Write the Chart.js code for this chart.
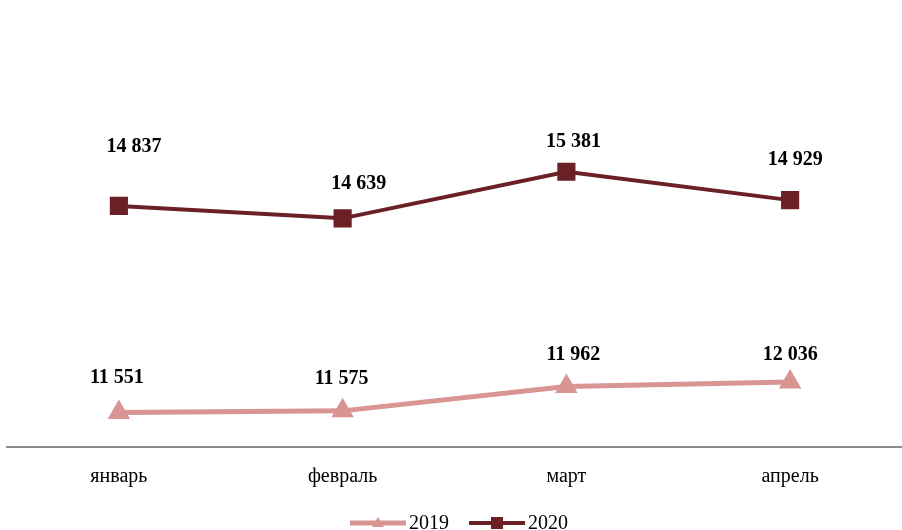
<!DOCTYPE html>
<html>
<head>
<meta charset="utf-8">
<script src="https://cdn.jsdelivr.net/npm/chart.js@4"></script>
<style>
  html, body { margin: 0; padding: 0; background: #fff; }
  #wrap { width: 902px; height: 530px; overflow: hidden; }
</style>
</head>
<body>
<div id="wrap"><canvas id="chart" width="902" height="530"></canvas></div>
<script>
const months = ["январь", "февраль", "март", "апрель"];
const values2019 = [11551, 11575, 11962, 12036];
const values2020 = [14837, 14639, 15381, 14929];
const seriesNames = ["2019", "2020"];

const color2019 = "#D99594";
const color2020 = "#6A2025";
const serif = "'Liberation Serif', 'Times New Roman', serif";

// label offsets (px from the point)
const labelOffsets = [
    [[-2, -35], [-1, -32], [7, -32], [0, -27]],
    [[15, -59], [16, -35], [7, -30], [5, -40]]
];

function fmt(v) {
    return String(v).replace(/\B(?=(\d{3})+(?!\d))/g, " ");
}

const valueLabels = {
    id: "valueLabels",
    afterDatasetsDraw(chart) {
        const ctx = chart.ctx;
        ctx.save();
        ctx.font = "bold 20px " + serif;
        ctx.fillStyle = "#000";
        ctx.textAlign = "center";
        ctx.textBaseline = "middle";
        chart.data.datasets.forEach((ds, i) => {
            chart.getDatasetMeta(i).data.forEach((pt, j) => {
                const off = labelOffsets[i][j];
                ctx.fillText(fmt(ds.data[j]), pt.x + off[0], pt.y + off[1]);
            });
        });
        ctx.restore();
    }
};

// ------------------------------
// Legend: line + marker, like Excel
// ------------------------------
const lineLegend = {
    id: "lineLegend",
    afterDraw(chart) {
        const ctx = chart.ctx;
        const y = 523;
        const sw = 56;
        ctx.save();
        ctx.font = "20px " + serif;
        ctx.textBaseline = "middle";
        const items = chart.data.datasets.map(ds => ({ ds, w: ctx.measureText(ds.label).width }));
        const total = items.reduce((s, it) => s + sw + 3 + it.w, 0) + 20 * (items.length - 1);
        let x = chart.width / 2 - total / 2 + 8;
        items.forEach(({ ds, w }) => {
            ctx.strokeStyle = ds.borderColor;
            ctx.fillStyle = ds.borderColor;
            ctx.lineWidth = ds.borderWidth;
            ctx.beginPath();
            ctx.moveTo(x, y);
            ctx.lineTo(x + sw, y);
            ctx.stroke();
            const cx = x + sw / 2;
            ctx.beginPath();
            if (ds.pointStyle === "triangle") {
                ctx.moveTo(cx, y - 6);
                ctx.lineTo(cx + 6, y + 4);
                ctx.lineTo(cx - 6, y + 4);
                ctx.closePath();
            } else {
                ctx.rect(cx - 6, y - 6, 12, 12);
            }
            ctx.fill();
            ctx.fillStyle = "#000";
            ctx.fillText(ds.label, x + sw + 3, y + 1);
            x += sw + 3 + w + 20;
        });
        ctx.restore();
    }
};

new Chart(document.getElementById("chart"), {
    type: "line",
    data: {
        labels: months,
        datasets: [
            {
                label: seriesNames[0],
                data: values2019,
                borderColor: color2019,
                backgroundColor: color2019,
                borderWidth: 5,
                pointStyle: "triangle",
                pointRadius: 8,
                pointHoverRadius: 8,
                tension: 0
            },
            {
                label: seriesNames[1],
                data: values2020,
                borderColor: color2020,
                backgroundColor: color2020,
                borderWidth: 4,
                pointStyle: "rect",
                pointRadius: 10,
                pointHoverRadius: 10,
                tension: 0
            }
        ]
    },
    options: {
        responsive: false,
        animation: false,
        layout: { autoPadding: false, padding: { top: 70, left: 7, right: -6, bottom: 31 } },
        scales: {
            x: {
                offset: true,
                grid: { display: false },
                border: { display: true, color: "#8c8c8c", width: 2 },
                ticks: {
                    color: "#000",
                    padding: 10,
                    font: { family: serif, size: 20 }
                }
            },
            y: {
                display: false,
                min: 11000,
                max: 17000
            }
        },
        plugins: {
            tooltip: { enabled: false },
            legend: { display: false }
        }
    },
    plugins: [valueLabels, lineLegend]
});
</script>
</body>
</html>
